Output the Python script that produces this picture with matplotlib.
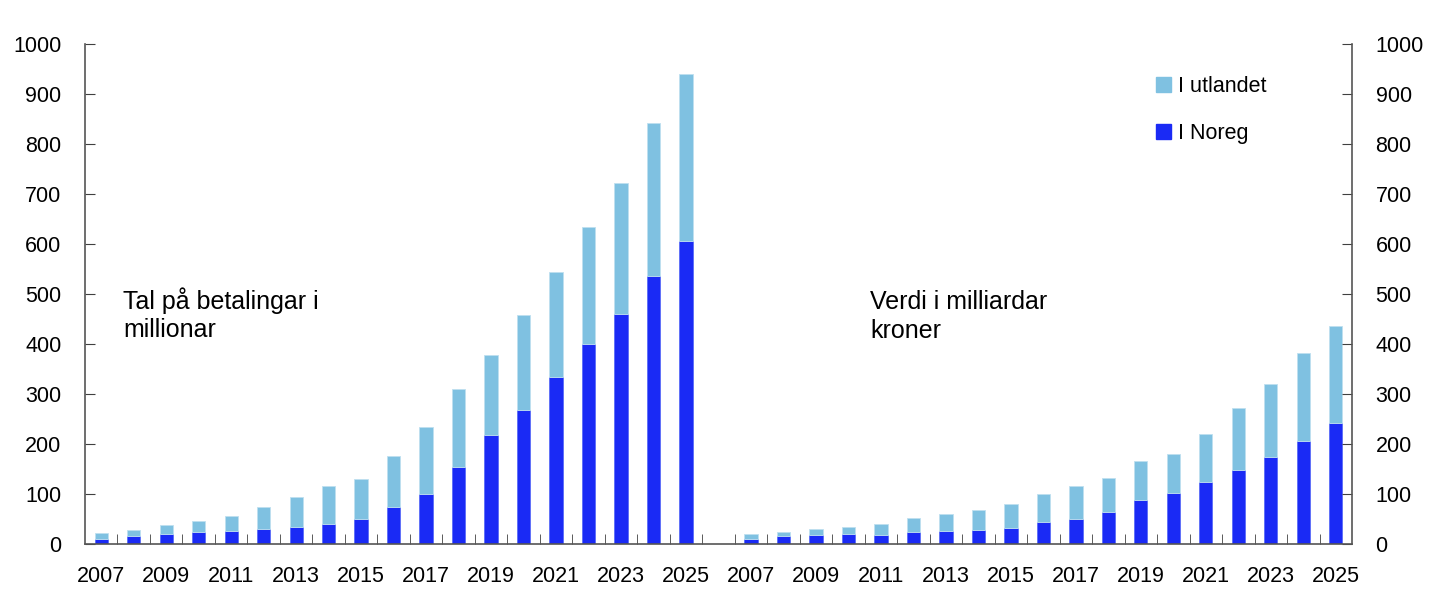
import numpy as np
import matplotlib
matplotlib.use('Agg')
import matplotlib.pyplot as plt
from matplotlib.patches import Patch

plt.rcParams['font.family'] = ['Liberation Sans', 'DejaVu Sans']

years = list(range(2007, 2026))
# tal på betalingar i millionar
cnt_total = [23, 29, 39, 46, 56, 75, 95, 116, 130, 177, 235, 310, 379, 459, 545, 634, 723, 843, 940]
cnt_noreg = [10, 16, 21, 25, 27, 31, 34, 41, 50, 74, 100, 155, 219, 268, 334, 400, 460, 536, 606]
# verdi i milliardar kroner
val_total = [20, 25, 31, 35, 40, 53, 60, 69, 81, 100, 117, 133, 167, 180, 221, 273, 321, 382, 437]
val_noreg = [11, 16, 19, 21, 19, 25, 27, 29, 33, 45, 51, 65, 89, 103, 125, 148, 174, 207, 243]

c_light = '#7fc1e1'
c_dark = '#1a2af5'

n = len(years)
x_cnt = np.arange(n)
x_val = np.arange(n) + n + 1

fig = plt.figure(figsize=(14.45, 6.16), dpi=100)
ax = fig.add_axes([85/1445, 72/616, 1267/1445, 500/616])

w = 0.41
for xs, tot, nor in [(x_cnt, cnt_total, cnt_noreg), (x_val, val_total, val_noreg)]:
    nor = np.array(nor)
    utl = np.array(tot) - nor
    ax.bar(xs, nor, w, color=c_dark, edgecolor='#5a6cf8', lw=0.6)
    ax.bar(xs, utl, w, bottom=nor, color=c_light, edgecolor='#bfe0f0', lw=0.6)

ax.set_xlim(-0.5, 2*n + 0.5)
ax.set_ylim(0, 1000)
ax.set_yticks(np.arange(0, 1001, 100))

lab_pos = list(x_cnt[::2]) + list(x_val[::2])
lab_txt = [str(y) for y in years[::2]] * 2
ax.set_xticks(lab_pos)
ax.set_xticklabels(lab_txt)
ax.set_xticks(np.arange(0.5, 2*n, 1.0), minor=True)

ax.tick_params(axis='x', which='major', length=0, pad=16, labelsize=15.5)
ax.tick_params(axis='x', which='minor', direction='in', length=7, color='#404040')
ax.tick_params(axis='y', direction='in', length=7, pad=17, labelsize=15.5,
               left=True, right=True, labelleft=True, labelright=True, color='#404040')

ax.spines['top'].set_visible(False)
for s in ['left', 'right', 'bottom']:
    ax.spines[s].set_color('#555555')
    ax.spines[s].set_linewidth(1.2)

ax.text(0.67, 514, 'Tal på betalingar i\nmillionar', fontsize=18, va='top', ha='left', linespacing=1.25)
ax.text(23.66, 508, 'Verdi i milliardar\nkroner', fontsize=18, va='top', ha='left', linespacing=1.25)

handles = [Patch(color=c_light, label='I utlandet'), Patch(color=c_dark, label='I Noreg')]
ax.legend(handles=handles, loc='upper left', bbox_to_anchor=(0.83, 0.975), frameon=False,
          fontsize=15.5, handlelength=0.7, handleheight=0.7, handletextpad=0.3, labelspacing=1.2)

fig.savefig('out.png', dpi=100)
